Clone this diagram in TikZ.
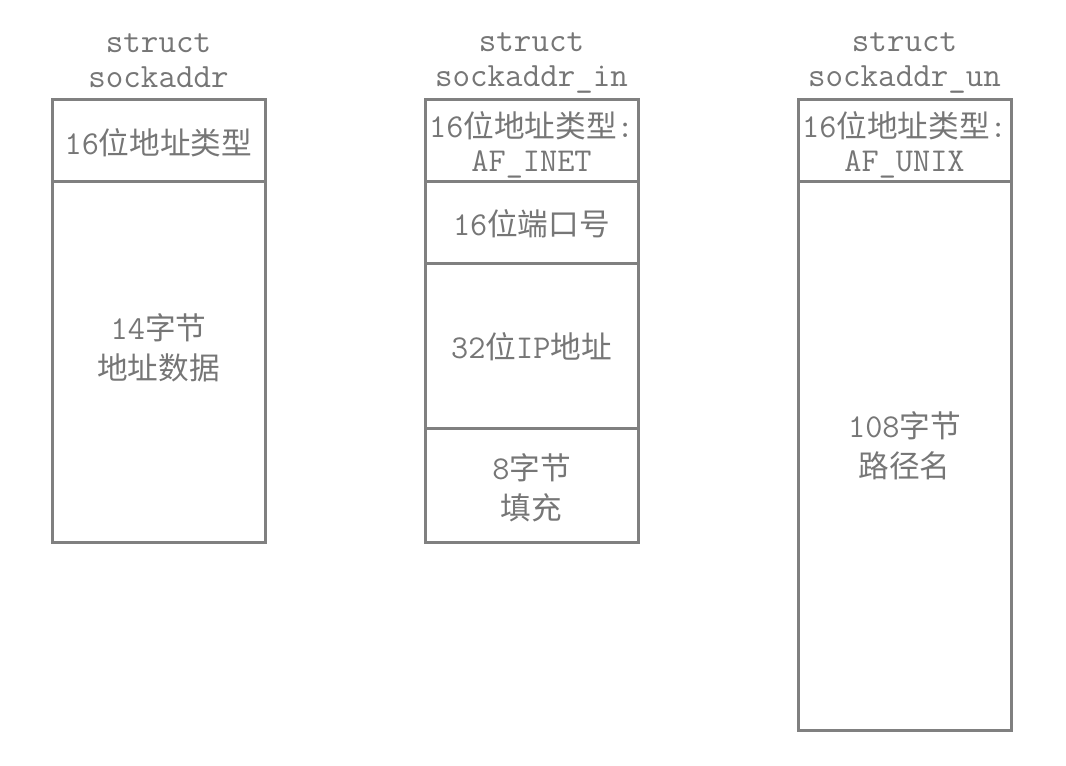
\documentclass[tikz,border=0pt]{standalone}
\usepackage{fontspec}
\newfontfamily\cjfont{Noto Sans CJK SC}
\newcommand\zh[1]{{\fontsize{23}{30}\selectfont\cjfont #1}}
\definecolor{gr}{RGB}{128,128,128}
\definecolor{tx}{RGB}{118,118,118}
\begin{document}
\begin{tikzpicture}[x=0.75pt,y=-0.75pt,
  cell/.style={draw=gr,line width=2.25pt},
  lbl/.style={text=tx,font=\ttfamily\fontsize{25}{30}\selectfont,align=center,inner sep=0pt},
  lbltight/.style={text=tx,font=\ttfamily\fontsize{25}{25.5}\selectfont,align=center,inner sep=0pt},
  ttl/.style={text=tx,font=\ttfamily\fontsize{25.5}{26.5}\selectfont,align=center,inner sep=0pt}]
\useasboundingbox (0,0) rectangle (1066,766);
% titles
\node[ttl] (t1) at (158.5,61) {struct\\sockaddr};
\node[ttl] (t2) at (531.5,63) {struct\\sockaddr\_in};
\node[ttl] (t3) at (904.5,63) {struct\\sockaddr\_un};
% box 1
\draw[cell] (52,100) rectangle (265,542);
\draw[cell] (52,182) -- (265,182);
\node[lbl] (a1) at (158.5,143) {16\zh{位地址类型}};
\node[lbl] (a2) at (158.5,348) {14\zh{字节}\\\zh{地址数据}};
% box 2
\draw[cell] (425,100) rectangle (638,542);
\draw[cell] (425,182) -- (638,182);
\draw[cell] (425,264) -- (638,264);
\draw[cell] (425,428) -- (638,428);
\node[lbltight] (b1) at (531.5,145) {16\zh{位地址类型}:\\AF\_INET};
\node[lbl] (b2) at (531.5,224) {16\zh{位端口号}};
\node[lbl] (b3) at (531.5,347) {32\zh{位}IP\zh{地址}};
\node[lbl] (b4) at (531.5,488) {8\zh{字节}\\\zh{填充}};
% box 3
\draw[cell] (798,100) rectangle (1011,730);
\draw[cell] (798,182) -- (1011,182);
\node[lbltight] (c1) at (904.5,145) {16\zh{位地址类型}:\\AF\_UNIX};
\node[lbl] (c2) at (904.5,446) {108\zh{字节}\\\zh{路径名}};
\end{tikzpicture}
\end{document}
